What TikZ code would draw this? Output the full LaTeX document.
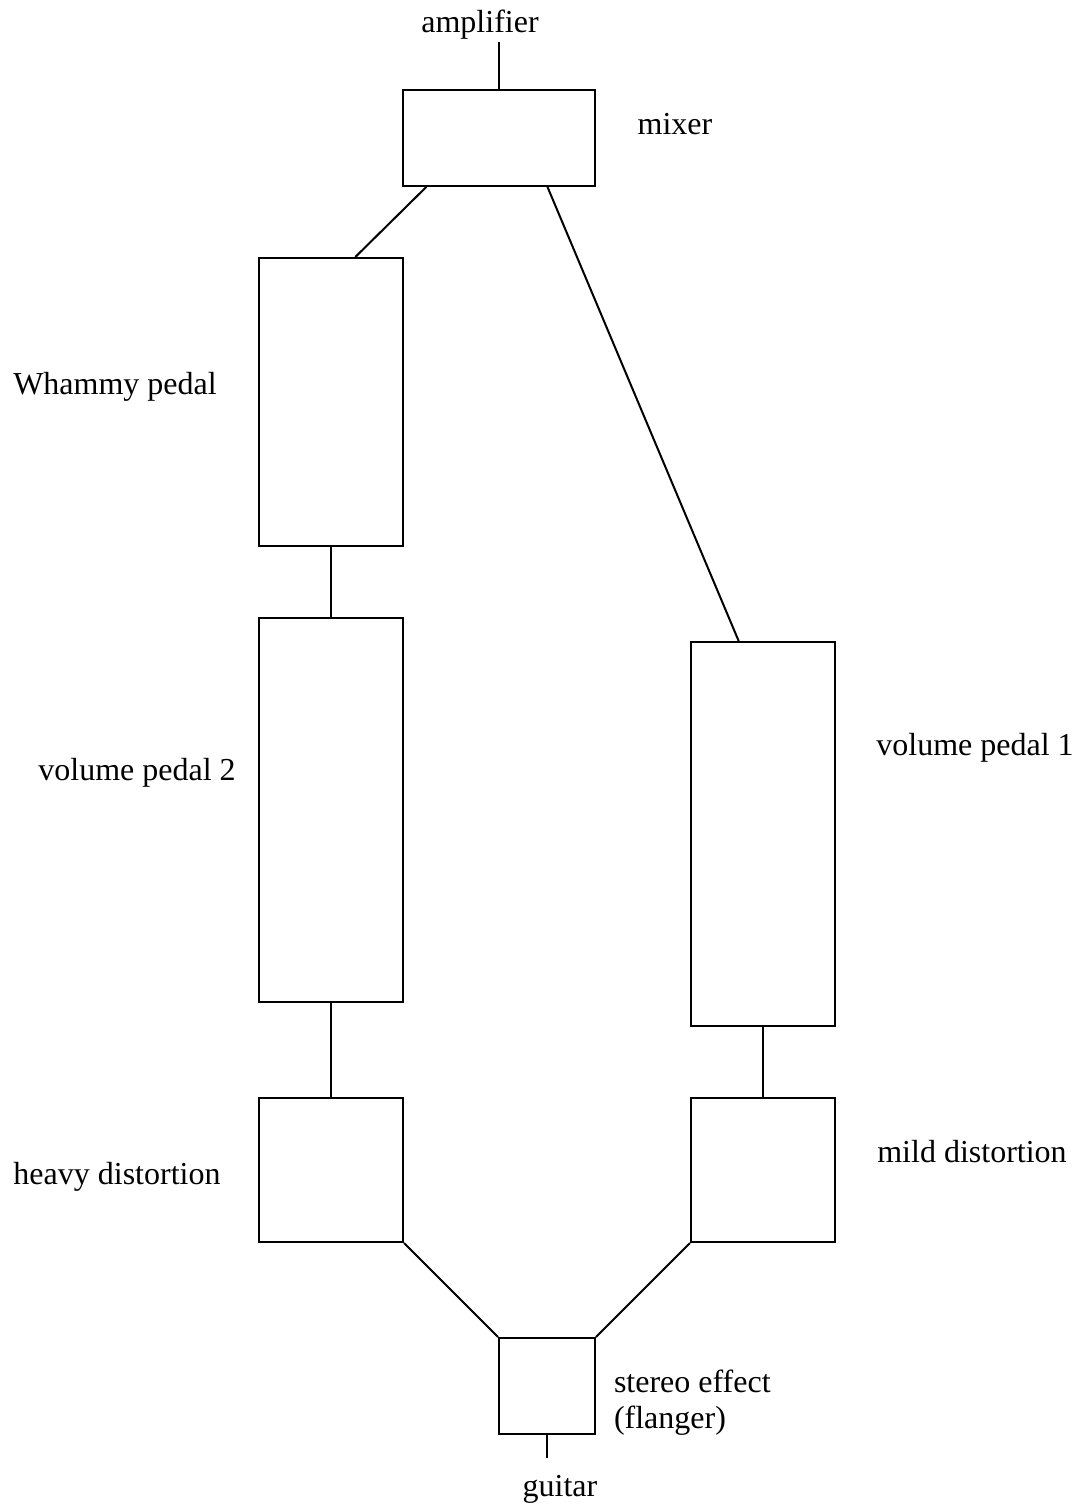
\documentclass[tikz,border=0pt]{standalone}
\usepackage{fontspec}
\setmainfont{Liberation Serif}
\usetikzlibrary{calc}
\tikzstyle{pedal}=[rectangle, draw, line width=1pt, inner sep=0pt]
\tikzstyle{lbl}=[inner sep=0pt, font=\fontsize{16}{18}\selectfont]
\newcommand{\pedal}{\node[pedal]}

\begin{document}
\begin{tikzpicture}[x=0.5pt, y=-0.5pt, line width=1pt]
\useasboundingbox (0,0) rectangle (1087,1507);
%boxes
\pedal[minimum width=96pt, minimum height=48pt] (mixer) at (499,138){};
\pedal[minimum width=72pt, minimum height=144pt] (whammy) at (331,402){};
\pedal[minimum width=72pt, minimum height=192pt] (vol2) at (331,810){};
\pedal[minimum width=72pt, minimum height=72pt] (heavy) at (331,1170){};
\pedal[minimum width=72pt, minimum height=192pt] (vol1) at (763,834){};
\pedal[minimum width=72pt, minimum height=72pt] (mild) at (763,1170){};
\pedal[minimum width=48pt, minimum height=48pt] (stereo) at (547,1386){};
\coordinate (amp) at (499,42);
\coordinate (gtr) at (547,1458);
%labels
\node[lbl] (amplabel) at (480,25){amplifier};
\node[lbl] (mixlabel) at (675,124){mixer};
\node[lbl] (whamlabel) at (115,387){Whammy pedal};
\node[lbl] (vol2label) at (137,773){volume pedal 2};
\node[lbl] (heavylabel) at (117,1177){heavy distortion};
\node[lbl] (vol1label) at (975,748){volume pedal 1};
\node[lbl] (mildlabel) at (972,1152){mild distortion};
\node[lbl, anchor=west, align=left] (stlabel) at (613,1403){stereo effect\\(flanger)};
\node[lbl] (gtrlabel) at (560,1489){guitar};
%cables
\draw (amp) -- (mixer.north);
\draw ($(mixer.south west)!0.25!(mixer.south)$) -- ($(whammy.north)!1/3!(whammy.north east)$);
\draw ($(mixer.south)!0.5!(mixer.south east)$) -- ($(vol1.north west)!2/3!(vol1.north)$);
\draw (whammy.south) -- (vol2.north);
\draw (vol2.south) -- (heavy.north);
\draw (vol1.south) -- (mild.north);
\draw (heavy.south east) -- (stereo.north west);
\draw (mild.south west) -- (stereo.north east);
\draw (stereo.south) -- (gtr);
\end{tikzpicture}
\end{document}
